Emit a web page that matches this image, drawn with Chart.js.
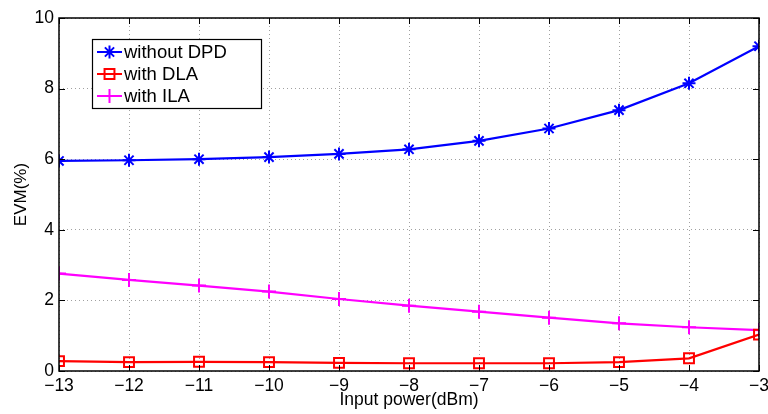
<!DOCTYPE html>
<html>
<head>
<meta charset="utf-8">
<script src="https://cdn.jsdelivr.net/npm/chart.js@4"></script>
<style>
  html, body { margin: 0; padding: 0; background: #fff; overflow: hidden; }
  #wrap { width: 768px; height: 414px; }
</style>
</head>
<body>
<div id="wrap"><canvas id="evmChart" width="768" height="414"></canvas></div>
<script>
// data
const inputPower = [-13, -12, -11, -10, -9, -8, -7, -6, -5, -4, -3];
const withoutDPD = [5.95, 5.97, 6.0, 6.06, 6.15, 6.28, 6.52, 6.87, 7.39, 8.15, 9.2];
const withDLA = [0.28, 0.25, 0.26, 0.25, 0.23, 0.22, 0.22, 0.22, 0.25, 0.36, 1.03];
const withILA = [2.76, 2.58, 2.42, 2.25, 2.04, 1.85, 1.68, 1.51, 1.35, 1.24, 1.16];
const seriesNames = ['without DPD', 'with DLA', 'with ILA'];
const xTicks = [-13, -12, -11, -10, -9, -8, -7, -6, -5, -4, -3];
const yTicks = [0, 2, 4, 6, 8, 10];

const FONT = 'Liberation Sans, Arial, Helvetica, sans-serif';

function toPoints(values) {
    return inputPower.map((x, i) => ({ x: x, y: values[i] }));
}

function minusSign(v) {
    return String(v).replace('-', '\u2212');
}

// matlab style: boxed axes, ticks inside, legend box in the upper left
const matlabAxes = {
    id: 'matlabAxes',
    afterDraw(chart) {
        const ctx = chart.ctx;
        const area = chart.chartArea;
        const xs = chart.scales.x;
        const ys = chart.scales.y;
        const tl = 6;
        ctx.save();
        ctx.strokeStyle = '#000';
        ctx.lineWidth = 1;
        ctx.beginPath();
        xTicks.forEach(function(t) {
            const px = Math.round(xs.getPixelForValue(t)) + 0.5;
            ctx.moveTo(px, area.bottom); ctx.lineTo(px, area.bottom - tl);
            ctx.moveTo(px, area.top); ctx.lineTo(px, area.top + tl);
        });
        yTicks.forEach(function(t) {
            const py = Math.round(ys.getPixelForValue(t)) + 0.5;
            ctx.moveTo(area.left, py); ctx.lineTo(area.left + tl, py);
            ctx.moveTo(area.right, py); ctx.lineTo(area.right - tl, py);
        });
        ctx.stroke();
        ctx.lineWidth = 1.5;
        ctx.strokeRect(area.left, area.top, area.right - area.left, area.bottom - area.top);

        // legend
        const box = { x: 92.5, y: 39.5, w: 169, h: 69 };
        ctx.fillStyle = '#fff';
        ctx.fillRect(box.x, box.y, box.w, box.h);
        ctx.lineWidth = 1.2;
        ctx.strokeRect(box.x, box.y, box.w, box.h);
        ctx.font = '18.5px ' + FONT;
        ctx.textBaseline = 'middle';
        chart.data.datasets.forEach(function(ds, i) {
            const cy = 52 + i * 22;
            ctx.strokeStyle = ds.borderColor;
            ctx.lineWidth = 2;
            ctx.beginPath();
            ctx.moveTo(97, cy); ctx.lineTo(122, cy);
            ctx.stroke();
            ctx.fillStyle = 'rgba(0,0,0,0)';
            Chart.helpers.drawPoint(ctx, {
                pointStyle: ds.pointStyle,
                radius: ds.pointRadius,
                borderWidth: ds.pointBorderWidth,
                rotation: 0
            }, 109.5, cy);
            ctx.fillStyle = '#000';
            ctx.fillText(ds.label, 124, cy + 1);
        });
        ctx.restore();
    }
};

const ctx = document.getElementById('evmChart').getContext('2d');

const evmChart = new Chart(ctx, {
    type: 'line',
    data: {
        datasets: [{
            label: seriesNames[0],
            data: toPoints(withoutDPD),
            borderColor: '#0000ff',
            backgroundColor: 'rgba(0,0,0,0)',
            borderWidth: 2.2,
            pointStyle: 'star',
            pointRadius: 6.5,
            pointBorderWidth: 2
        }, {
            label: seriesNames[1],
            data: toPoints(withDLA),
            borderColor: '#ff0000',
            backgroundColor: 'rgba(0,0,0,0)',
            borderWidth: 2.2,
            pointStyle: 'rect',
            pointRadius: 7,
            pointBorderWidth: 2
        }, {
            label: seriesNames[2],
            data: toPoints(withILA),
            borderColor: '#ff00ff',
            backgroundColor: 'rgba(0,0,0,0)',
            borderWidth: 2.2,
            pointStyle: 'cross',
            pointRadius: 7,
            pointBorderWidth: 2
        }]
    },
    options: {
        responsive: false,
        animation: false,
        events: [],
        layout: { padding: { left: 0, right: 6, top: 18, bottom: 0 } },
        plugins: {
            legend: { display: false },
            tooltip: { enabled: false }
        },
        elements: { line: { tension: 0 } },
        scales: {
            x: {
                type: 'linear',
                min: -13,
                max: -3,
                afterBuildTicks: function(scale) {
                    scale.ticks = xTicks.map(v => ({ value: v }));
                },
                afterFit: function(scale) {
                    scale.height = 43;
                    scale.paddingLeft = 0;
                    scale.paddingRight = 0;
                },
                grid: { color: '#a0a0a0', lineWidth: 1, drawTicks: false },
                border: { display: false, dash: [1, 3] },
                ticks: {
                    padding: 5,
                    color: '#000',
                    font: { family: FONT, size: 17.5 },
                    maxRotation: 0,
                    callback: minusSign
                },
                title: {
                    display: true,
                    text: 'Input power(dBm)',
                    color: '#000',
                    font: { family: FONT, size: 17.5 },
                    padding: { top: 0, bottom: 3 }
                }
            },
            y: {
                min: 0,
                max: 10,
                afterBuildTicks: function(scale) {
                    scale.ticks = yTicks.map(v => ({ value: v }));
                },
                afterFit: function(scale) {
                    scale.width = 59;
                    scale.paddingTop = 0;
                    scale.paddingBottom = 0;
                },
                grid: { color: '#a0a0a0', lineWidth: 1, drawTicks: false },
                border: { display: false, dash: [1, 3] },
                ticks: {
                    padding: 5,
                    color: '#000',
                    font: { family: FONT, size: 17.5 },
                    callback: minusSign
                },
                title: {
                    display: true,
                    text: 'EVM(%)',
                    color: '#000',
                    font: { family: FONT, size: 17 },
                    padding: { top: 11, bottom: 0 }
                }
            }
        }
    },
    plugins: [matlabAxes]
});
</script>
</body>
</html>
